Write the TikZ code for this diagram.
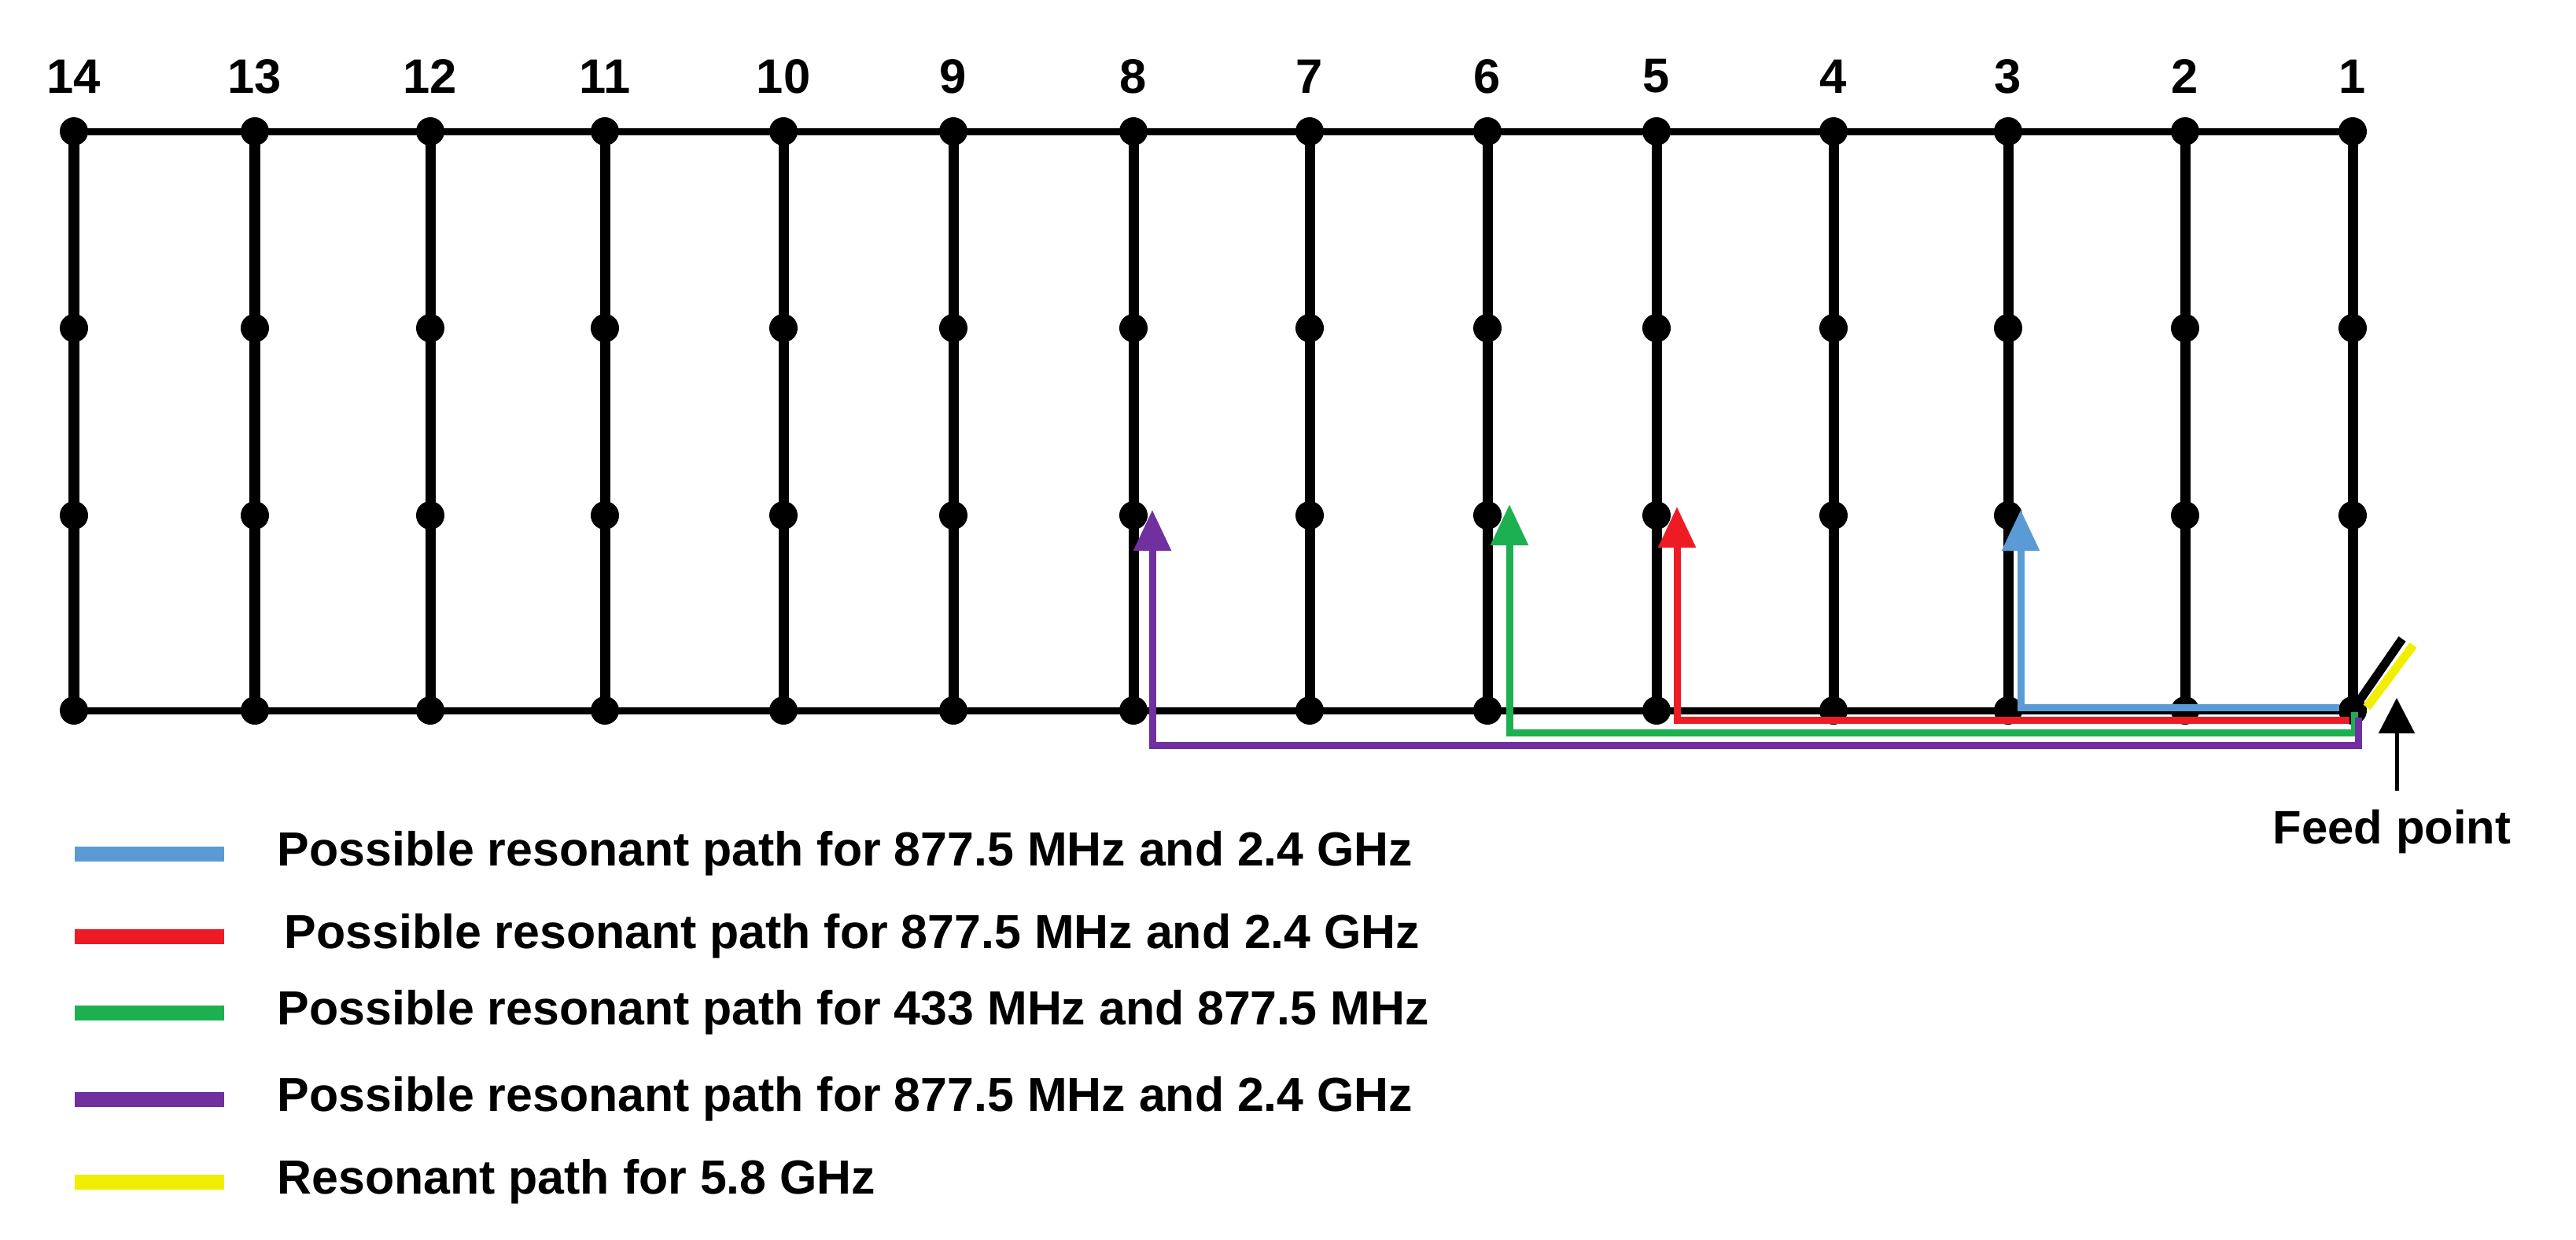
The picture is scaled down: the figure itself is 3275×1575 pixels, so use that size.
\documentclass[tikz,border=0pt]{standalone}
\usepackage{fontspec}
\setmainfont{Liberation Sans}
\usetikzlibrary{arrows.meta}
\definecolor{cblue}{RGB}{91,155,213}
\definecolor{cred}{RGB}{237,28,36}
\definecolor{cgreen}{RGB}{29,176,80}
\definecolor{cpurple}{RGB}{112,48,160}
\definecolor{cyel}{RGB}{242,238,0}
\tikzset{
  dot/.style={circle,fill=black,inner sep=0pt,minimum size=0.36cm},
  wire/.style={line width=0.13cm,black},
  rail/.style={line width=0.09cm,black},
  path/.style={line width=0.09cm},
  tip/.style={-{Triangle[length=0.52cm,width=0.46cm]}},
  num/.style={font=\bfseries\fontsize{17.5}{20}\selectfont},
  leg/.style={font=\bfseries\fontsize{17.3}{20}\selectfont,anchor=west},
  swatch/.style={line width=0.19cm}
}
\begin{document}
\begin{tikzpicture}[x=0.01cm,y=-0.01cm]
\useasboundingbox (0,0) rectangle (3275,1575);
\foreach \i/\x in {14/94,13/324,12/547,11/769,10/996,9/1212,8/1441,7/1665,6/1891,5/2106,4/2331,3/2553,2/2778,1/2991}{
  \node[num] (l\i) at (\x,97) {\i};
  \node[dot] (a\i) at (\x,167) {};
  \node[dot] (b\i) at (\x,417) {};
  \node[dot] (c\i) at (\x,655) {};
  \node[dot] (d\i) at (\x,903) {};
  \draw[wire] (a\i.center) -- (d\i.center);
}
\draw[rail] (a14.center) -- (a1.center);
\draw[rail] (d14.center) -- (d1.center);
% feed stub
\coordinate (s1) at (3054,812);
\coordinate (y0) at (3009,899);
\coordinate (y1) at (3068,820);
\draw[line width=0.11cm,black] (d1.center) -- (s1);
\draw[line width=0.11cm,cyel] (y0) -- (y1);
% paths
\coordinate (bt) at (2569,648);
\draw[path,cblue,tip] (2974,899) -- (2569,899) -- (bt);
\coordinate (rt) at (2132,644);
\draw[path,cred,tip] (2987,915) -- (2132,915) -- (rt);
\coordinate (gt) at (1919,641);
\draw[path,cgreen,tip] (2993,905) -- (2993,931) -- (1919,931) -- (gt);
\coordinate (pt) at (1465,648);
\draw[path,cpurple,tip] (2998,912) -- (2998,947) -- (1465,947) -- (pt);
% feed point
\node[font=\bfseries\fontsize{17}{20}\selectfont] (fp) at (3041,1057) {Feed point};
\coordinate (fa) at (3047,887);
\draw[line width=0.05cm,-{Triangle[length=0.45cm,width=0.45cm]}] (fp.north) ++(6,-12) -- (fa);
% legend
\foreach \yy/\xx/\c/\t [count=\k] in {
 1085/352/cblue/{Possible resonant path for 877.5 MHz and 2.4 GHz},
 1190/361/cred/{Possible resonant path for 877.5 MHz and 2.4 GHz},
 1287/352/cgreen/{Possible resonant path for 433 MHz and 877.5 MHz},
 1397/352/cpurple/{Possible resonant path for 877.5 MHz and 2.4 GHz},
 1502/352/cyel/{Resonant path for 5.8 GHz}}{
  \coordinate (sw\k) at (95,\yy);
  \coordinate (se\k) at (285,\yy);
  \draw[swatch,\c] (sw\k) -- (se\k);
  \node[leg,inner sep=0pt] (t\k) at (\xx,\yy) {\t};
}
\end{tikzpicture}
\end{document}
